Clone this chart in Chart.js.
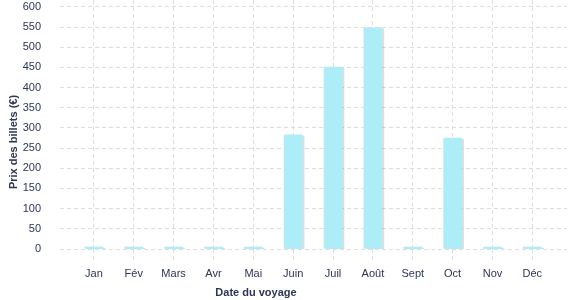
<!DOCTYPE html>
<html>
<head>
<meta charset="utf-8">
<script src="https://cdn.jsdelivr.net/npm/chart.js@4.4.1/dist/chart.umd.min.js"></script>
<style>
    html, body { margin: 0; padding: 0; background: #fff; }
    #wrap { width: 577px; height: 300px; }
</style>
</head>
<body>
<div id="wrap"><canvas id="price-chart"></canvas></div>
<script>
const months = ['Jan', 'Fév', 'Mars', 'Avr', 'Mai', 'Juin', 'Juil', 'Août', 'Sept', 'Oct', 'Nov', 'Déc'];
const prices = [0, 0, 0, 0, 0, 283, 451, 548, 0, 275, 0, 0];
const yTicks = [0, 50, 100, 150, 200, 250, 300, 350, 400, 450, 500, 550, 600];
const xTitle = 'Date du voyage';
const yTitle = 'Prix des billets (€)';

const textColor = '#2b3653';
const gridColor = '#dedede';

// bar shadow + hand placed axis titles
const extras = {
    id: 'extras',
    beforeDatasetsDraw(chart) {
        const ctx = chart.ctx;
        ctx.save();
        ctx.shadowColor = 'rgba(0,0,0,0.13)';
        ctx.shadowOffsetX = 2;
        ctx.shadowOffsetY = 1;
        ctx.shadowBlur = 0;
    },
    afterDatasetsDraw(chart) {
        chart.ctx.restore();
    },
    afterDraw(chart) {
        const ctx = chart.ctx;
        ctx.save();
        ctx.fillStyle = textColor;
        ctx.font = 'bold 11px "Liberation Sans", Arial, sans-serif';
        ctx.textAlign = 'center';
        ctx.textBaseline = 'middle';
        ctx.fillText(xTitle, 256, 293);
        ctx.translate(14, 142);
        ctx.rotate(-Math.PI / 2);
        ctx.fillText(yTitle, 0, 0);
        ctx.restore();
    }
};

const ctx = document.getElementById('price-chart').getContext('2d');
new Chart(ctx, {
    type: 'bar',
    data: {
        datasets: [{
            data: prices.map((p, i) => ({ x: i, y: p })),
            backgroundColor: '#adedf8',
            barThickness: 18,
            minBarLength: 2
        }]
    },
    options: {
        responsive: true,
        maintainAspectRatio: false,
        animation: false,
        layout: { padding: { top: 0, right: 10, left: 0, bottom: 0 } },
        plugins: {
            legend: { display: false },
            tooltip: { enabled: false }
        },
        scales: {
            x: {
                type: 'linear',
                min: -0.85,
                max: 11.87,
                offset: false,
                border: { display: false, dash: [4, 3] },
                grid: {
                    offset: false,
                    color: gridColor,
                    drawTicks: true,
                    tickLength: 14,
                    tickColor: gridColor,
                    tickBorderDash: [4, 3]
                },
                afterBuildTicks: axis => {
                    axis.ticks = months.map((m, i) => ({ value: i }));
                },
                ticks: {
                    color: textColor,
                    padding: 4,
                    maxRotation: 0,
                    autoSkip: false,
                    font: { family: '"Liberation Sans", Arial, sans-serif', size: 11 },
                    callback: v => months[v]
                },
                afterFit: axis => {
                    axis.height = 51;
                    axis.paddingLeft = 0;
                    axis.paddingRight = 0;
                }
            },
            y: {
                min: 0,
                max: 617,
                border: { display: false, dash: [4, 3] },
                grid: {
                    color: gridColor,
                    drawTicks: false
                },
                afterBuildTicks: axis => {
                    axis.ticks = yTicks.map(v => ({ value: v }));
                },
                ticks: {
                    color: textColor,
                    padding: 19,
                    font: { family: '"Liberation Sans", Arial, sans-serif', size: 11 }
                },
                afterFit: axis => {
                    axis.width = 60;
                    axis.paddingTop = 0;
                    axis.paddingBottom = 0;
                }
            }
        }
    },
    plugins: [extras]
});
</script>
</body>
</html>
